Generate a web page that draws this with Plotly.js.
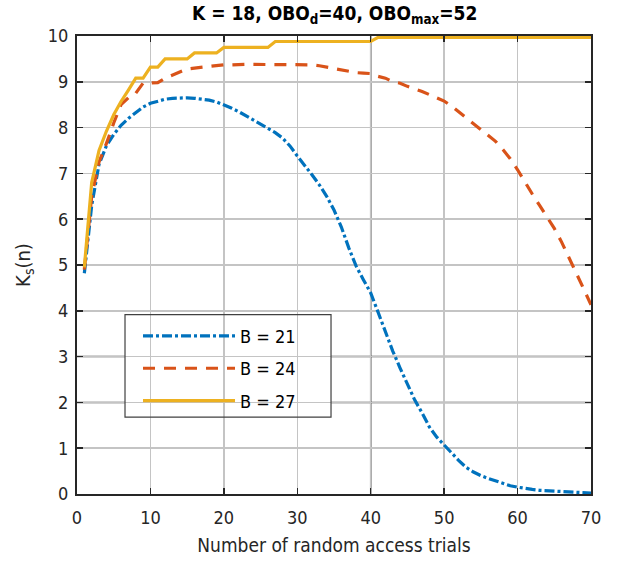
<!DOCTYPE html>
<html>
<head>
<meta charset="utf-8">
<script src="https://cdn.plot.ly/plotly-3.0.1.min.js"></script>
<style>html,body{margin:0;padding:0;background:#fff;}#chart{width:622px;height:562px;}</style>
</head>
<body>
<div id="chart"></div>
<script>
const trials = Array.from({length: 70}, (_, i) => i + 1);

const ksB21 = [4.82, 6.3, 7.2, 7.6, 7.85, 8.05, 8.2, 8.33, 8.45, 8.53,
  8.58, 8.62, 8.64, 8.65, 8.65, 8.64, 8.62, 8.6, 8.56, 8.5,
  8.43, 8.35, 8.26, 8.17, 8.08, 7.99, 7.89, 7.77, 7.6, 7.38,
  7.18, 6.97, 6.75, 6.5, 6.2, 5.83, 5.38, 4.98, 4.68, 4.39,
  3.97, 3.55, 3.12, 2.75, 2.4, 2.05, 1.77, 1.46, 1.24, 1.08,
  0.9, 0.73, 0.58, 0.48, 0.4, 0.34, 0.29, 0.23, 0.18, 0.15,
  0.12, 0.1, 0.08, 0.07, 0.06, 0.05, 0.04, 0.03, 0.03, 0.02];

const ksB24 = [4.9, 6.5, 7.25, 7.65, 8.1, 8.5, 8.65, 8.75, 8.97, 8.98,
  8.98, 9.08, 9.15, 9.22, 9.28, 9.3, 9.32, 9.34, 9.35, 9.37,
  9.37, 9.38, 9.38, 9.38, 9.38, 9.38, 9.38, 9.38, 9.38, 9.38,
  9.37, 9.37, 9.35, 9.32, 9.3, 9.27, 9.23, 9.2, 9.19, 9.18,
  9.12, 9.08, 9.0, 8.97, 8.9, 8.85, 8.79, 8.72, 8.65, 8.58,
  8.47, 8.34, 8.22, 8.1, 7.95, 7.83, 7.7, 7.52, 7.32, 7.08,
  6.8, 6.55, 6.3, 6.05, 5.8, 5.5, 5.17, 4.83, 4.48, 4.13];

const ksB27 = [4.95, 6.8, 7.5, 7.92, 8.28, 8.57, 8.82, 9.08, 9.08, 9.32,
  9.32, 9.5, 9.5, 9.5, 9.5, 9.63, 9.63, 9.63, 9.63, 9.75,
  9.75, 9.75, 9.75, 9.75, 9.75, 9.75, 9.88, 9.88, 9.88, 9.88,
  9.88, 9.88, 9.88, 9.88, 9.88, 9.88, 9.88, 9.88, 9.88, 9.88,
  9.97, 9.97, 9.97, 9.97, 9.97, 9.97, 9.97, 9.97, 9.97, 9.97,
  9.97, 9.97, 9.97, 9.97, 9.97, 9.97, 9.97, 9.97, 9.97, 9.97,
  9.97, 9.97, 9.97, 9.97, 9.97, 9.97, 9.97, 9.97, 9.97, 9.97];

const seriesNames = ['B = 21', 'B = 24', 'B = 27'];
const xTicks = [0, 10, 20, 30, 40, 50, 60, 70];
const yTicks = [0, 1, 2, 3, 4, 5, 6, 7, 8, 9, 10];

const FONT = '"DejaVu Sans Condensed", "Liberation Sans", Arial, sans-serif';

const traces = [
  {x: trials, y: ksB21, name: seriesNames[0], mode: 'lines', legendgroup: 'a',
   line: {color: '#0072BD', width: 3.2, dash: '10px,3px,3px,3px'}},
  {x: trials, y: ksB24, name: seriesNames[1], mode: 'lines', legendgroup: 'b',
   line: {color: '#D95319', width: 3.2, dash: '12px,9px'}},
  {x: trials, y: ksB27, name: seriesNames[2], mode: 'lines', legendgroup: 'c',
   line: {color: '#EDB120', width: 3.2}}
];

const axisCommon = {
  showline: true, linecolor: '#262626', linewidth: 2, mirror: 'ticks',
  ticks: 'inside', ticklen: 6, tickcolor: '#262626', tickwidth: 1.5,
  showgrid: true, gridcolor: '#c4c4c4', gridwidth: 1.5, zeroline: false,
  tickfont: {family: FONT, size: 18, color: '#262626'}
};

const shapes = [];
[20, 40].forEach(v => shapes.push({type: 'line', xref: 'x', yref: 'paper', x0: v, x1: v, y0: 0, y1: 1,
  layer: 'between', line: {color: '#4a4a4a', width: 1.5}}));
[2, 3].forEach(v => shapes.push({type: 'line', xref: 'paper', yref: 'y', x0: 0, x1: 1, y0: v, y1: v,
  layer: 'between', line: {color: '#4a4a4a', width: 1.5}}));
// legend frame
shapes.push({type: 'rect', xref: 'paper', yref: 'paper', x0: 0.0934, x1: 0.4942, y0: 0.168, y1: 0.3915,
  layer: 'above', fillcolor: 'rgba(0,0,0,0)', line: {color: '#404040', width: 1.2}});
shapes.push({type: 'rect', xref: 'paper', yref: 'paper', x0: 0.0934, x1: 0.4942, y0: 0.168, y1: 0.3915,
  layer: 'between', fillcolor: '#ffffff', line: {width: 0}});

const layout = {
  width: 622, height: 562,
  margin: {l: 77, r: 31, t: 36, b: 68},
  paper_bgcolor: '#fff', plot_bgcolor: '#fff',
  font: {family: FONT, color: '#262626'},
  title: {text: '<b>K = 18, OBO<sub>d</sub>=40, OBO<sub>max</sub>=52</b>',
    font: {family: FONT, size: 19, color: '#000'},
    x: 0.538, xanchor: 'center', y: 0.976, yanchor: 'middle', yref: 'container'},
  xaxis: Object.assign({}, axisCommon, {range: [0, 70], tickvals: xTicks, ticktext: xTicks.map(String),
    ticklabelstandoff: 6,
    title: {text: 'Number of random access trials', font: {family: FONT, size: 19, color: '#262626'}, standoff: 12}}),
  yaxis: Object.assign({}, axisCommon, {range: [0, 10], tickvals: yTicks, ticktext: yTicks.map(String),
    ticklabelstandoff: 3,
    title: {text: 'K<sub>s</sub>(n)', font: {family: FONT, size: 20, color: '#262626'}, standoff: 12}}),
  showlegend: true,
  legend: {x: 0.1187, y: 0.385, xanchor: 'left', yanchor: 'top',
    bgcolor: 'rgba(0,0,0,0)', borderwidth: 0,
    font: {family: FONT, size: 18, color: '#000'}, itemwidth: 92,
    tracegroupgap: 6},
  shapes: shapes
};

Plotly.newPlot('chart', traces, layout, {staticPlot: true, displayModeBar: false});
</script>
</body>
</html>
